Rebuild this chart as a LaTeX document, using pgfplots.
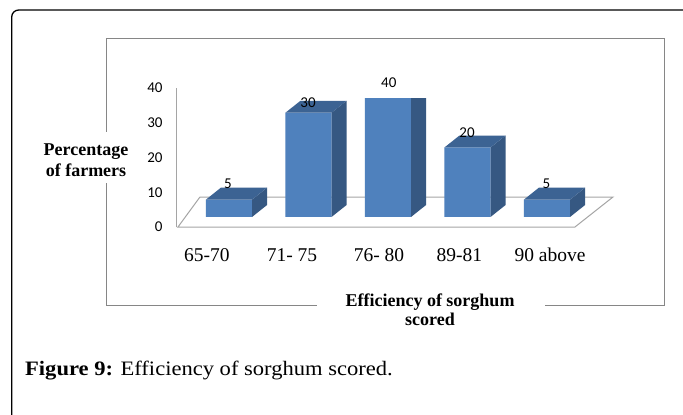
\documentclass[border=0pt]{standalone}
\usepackage{pgfplots}
\pgfplotsset{compat=1.18}
\usepackage{fontspec}
\newfontfamily\tnr{Liberation Serif}
\newfontfamily\capfont[FakeStretch=1.1]{Liberation Serif}
\newfontfamily\calib{Carlito}
\definecolor{front}{RGB}{79,129,189}
\definecolor{side}{RGB}{54,88,130}
\definecolor{topc}{RGB}{60,99,147}
\definecolor{framegray}{RGB}{134,134,134}
\definecolor{floorgray}{RGB}{165,165,165}
\pgfplotsset{base/.style={scale only axis, x=79.5bp, y=3.475bp, xmin=-0.66, xmax=5.2, ymin=-2.878,
  enlargelimits=false, at={(176.5bp,187bp)}, anchor=south west}}
\begin{document}
\begin{tikzpicture}[x=1bp,y=1bp]
\useasboundingbox (0,0) rectangle (683,414);
\fill[white] (0,0) rectangle (683,414);
% outer frame
\draw[line width=1.3bp, rounded corners=7bp] (11.7,-30) -- (11.7,404) -- (720,404);
% chart frame (with gaps for the axis titles)
\draw[framegray, line width=1bp] (106,282.3) -- (106,376) -- (664.3,376) -- (664.3,108.3) -- (545,108.3);
\draw[framegray, line width=1bp] (316.7,108.3) -- (106,108.3) -- (106,231);

% axis A: floor, y axis, tick labels
\begin{axis}[base, ymax=37.122, clip=false,
  axis x line*=bottom, axis y line*=left,
  x axis line style={draw=none},
  y axis line style={draw=floorgray, line width=1bp},
  major tick length=0pt,
  xtick={-0.277,0.792,1.887,2.899,4.038},
  xticklabels={65-70,71- 75,76- 80,89-81,90 above},
  ytick={-2.878,7.122,17.122,27.122,37.122},
  yticklabels={0,10,20,30,40},
  xticklabel style={anchor=base, inner sep=0pt, yshift=-34.7bp, font=\tnr\fontsize{19.5bp}{22bp}\selectfont},
  yticklabel style={anchor=east, inner sep=0pt, xshift=-13.8bp, font=\calib\fontsize{15bp}{17bp}\selectfont}]
\addplot[floorgray, line width=1bp, mark=none] coordinates {(-0.365,5.755) (-0.6415,-2.878) (4.352,-2.878) (4.830,5.755) (-0.365,5.755)};
\end{axis}

% axis B: the 3D bars (clipped at the top of the plot area)
\begin{axis}[base, ymax=34.24, hide axis, clip=true]
\addplot[ybar, bar width=0.58, bar shift=0pt, fill=front, draw=none] coordinates {(0,5) (1,30) (2,40) (3,20) (4,5)};
% side faces
\addplot[fill=side, draw=none, mark=none] coordinates {(0.29,0) (0.479,3.45) (0.479,8.45) (0.29,5)} -- cycle;
\addplot[fill=side, draw=none, mark=none] coordinates {(1.29,0) (1.479,3.45) (1.479,33.45) (1.29,30)} -- cycle;
\addplot[fill=side, draw=none, mark=none] coordinates {(2.29,0) (2.479,3.45) (2.479,43.45) (2.29,40)} -- cycle;
\addplot[fill=side, draw=none, mark=none] coordinates {(3.29,0) (3.479,3.45) (3.479,23.45) (3.29,20)} -- cycle;
\addplot[fill=side, draw=none, mark=none] coordinates {(4.29,0) (4.479,3.45) (4.479,8.45) (4.29,5)} -- cycle;
% top faces
\addplot[fill=topc, draw=none, mark=none] coordinates {(-0.29,5) (-0.101,8.45) (0.479,8.45) (0.29,5)} -- cycle;
\addplot[fill=topc, draw=none, mark=none] coordinates {(0.71,30) (0.899,33.45) (1.479,33.45) (1.29,30)} -- cycle;
\addplot[fill=topc, draw=none, mark=none] coordinates {(1.71,40) (1.899,43.45) (2.479,43.45) (2.29,40)} -- cycle;
\addplot[fill=topc, draw=none, mark=none] coordinates {(2.71,20) (2.899,23.45) (3.479,23.45) (3.29,20)} -- cycle;
\addplot[fill=topc, draw=none, mark=none] coordinates {(3.71,5) (3.899,8.45) (4.479,8.45) (4.29,5)} -- cycle;
\end{axis}

% axis C: value labels
\begin{axis}[base, ymax=45, hide axis, clip=false]
\addplot[draw=none, mark=none, nodes near coords, point meta=explicit symbolic,
  every node near coord/.append style={inner sep=0pt, text=black, font=\calib\fontsize{15bp}{17bp}\selectfont}]
  coordinates {(-0.013,8.14)[5] (0.994,31.54)[30] (2.01,37.12)[40] (2.994,22.9)[20] (3.994,8.06)[5]};
\end{axis}

% axis titles
\node[anchor=base, inner sep=0pt, font=\tnr\bfseries\fontsize{18bp}{20bp}\selectfont] at (86,259) {Percentage};
\node[anchor=base, inner sep=0pt, font=\tnr\bfseries\fontsize{18bp}{20bp}\selectfont] at (86,238) {of farmers};
\node[anchor=base, inner sep=0pt, font=\tnr\bfseries\fontsize{18bp}{20bp}\selectfont] at (430,108) {Efficiency of sorghum};
\node[anchor=base, inner sep=0pt, font=\tnr\bfseries\fontsize{18bp}{20bp}\selectfont] at (430,89) {scored};
% caption
\node[anchor=base west, inner sep=0pt, font=\capfont\fontsize{20.5bp}{24bp}\selectfont] at (25,38.3) {\textbf{Figure 9:} Efficiency of sorghum scored.};
\end{tikzpicture}
\end{document}
